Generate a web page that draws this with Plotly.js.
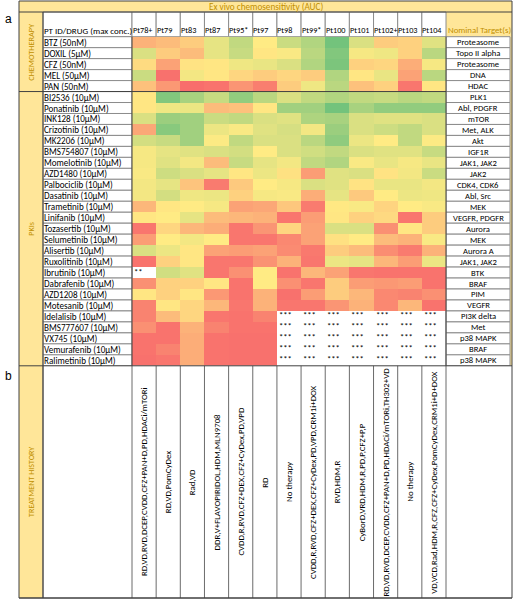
<!DOCTYPE html>
<html>
<head>
<meta charset="utf-8">
<script src="https://cdn.plot.ly/plotly-3.0.1.min.js"></script>
<style>html,body{margin:0;padding:0;background:#fff;}#chart{width:513px;height:600px;}</style>
</head>
<body>
<div id="chart"></div>
<script>
// ---------------- DATA ----------------
const patients = ["Pt78+","Pt79","Pt83","Pt87","Pt95*","Pt97","Pt98","Pt99*","Pt100","Pt101","Pt102+","Pt103","Pt104"];

const chemoDrugs = ["BTZ (50nM)","DOXIL (5µM)","CFZ (50nM)","MEL (50µM)","PAN (50nM)"];
const chemoTargets = ["Proteasome","Topo II alpha","Proteasome","DNA","HDAC"];

const pkiDrugs = ["BI2536 (10µM)","Ponatinib (10µM)","INK128 (10µM)","Crizotinib (10µM)","MK2206 (10µM)",
  "BMS754807 (10µM)","Momelotinib (10µM)","AZD1480 (10µM)","Palbociclib (10µM)","Dasatinib (10µM)",
  "Trametinib (10µM)","Linifanib (10µM)","Tozasertib (10µM)","Selumetinib (10µM)","Alisertib (10µM)",
  "Ruxolitinib (10µM)","Ibrutinib (10µM)","Dabrafenib (10µM)","AZD1208 (10µM)","Motesanib (10µM)",
  "Idelalisib (10µM)","BMS777607 (10µM)","VX745 (10µM)","Vemurafenib (10µM)","Ralimetinib (10µM)"];
const pkiTargets = ["PLK1","Abl, PDGFR","mTOR","Met, ALK","Akt","IGF1R","JAK1, JAK2","JAK2","CDK4, CDK6","Abl, Src",
  "MEK","VEGFR, PDGFR","Aurora","MEK","Aurora A","JAK1, JAK2","BTK","BRAF","PIM","VEGFR",
  "PI3K delta","Met","p38 MAPK","BRAF","p38 MAPK"];

// relative AUC colour level (0 = most sensitive/green, 50 = yellow, 100 = most resistant/red)
const chemoAUC = [
  [72,68,62,42,30,50,33,25,5,38,62,60,40],
  [38,62,68,42,32,52,48,28,10,47,45,60,28],
  [56,78,53,52,45,43,38,25,8,60,58,74,47],
  [33,97,46,52,58,62,58,62,25,52,43,78,28],
  [66,82,98,96,83,92,62,45,28,66,60,95,52]
];
const pkiAUC = [
  [52,10,22,32,15,28,38,30,25,30,32,28,30],
  [52,45,44,68,66,52,20,20,5,22,15,15,15],
  [38,18,20,33,30,38,40,24,22,38,40,40,38],
  [76,12,20,44,48,40,37,46,18,38,34,30,38],
  [36,32,20,49,30,38,38,28,14,44,50,30,49],
  [47,42,40,38,36,50,38,35,30,38,40,40,32],
  [47,40,46,68,32,42,46,30,25,48,43,47,43],
  [48,34,38,42,52,44,54,80,40,38,53,46,33],
  [46,42,65,93,63,50,47,38,40,53,43,43,46],
  [46,36,45,44,60,47,48,74,42,63,50,44,45],
  [70,52,50,47,78,76,64,93,51,48,59,50,48],
  [52,50,42,68,70,72,95,80,52,60,57,95,62],
  [95,58,70,74,95,83,58,78,38,38,85,52,62],
  [80,50,46,50,95,95,88,78,54,50,68,72,48],
  [38,44,52,78,80,78,87,94,62,68,86,93,72],
  [96,60,52,95,95,84,72,95,44,42,70,80,44],
  [null,35,40,95,85,50,96,70,78,95,96,96,96],
  [85,60,60,52,96,50,85,95,62,80,82,80,96],
  [52,60,52,82,96,72,97,80,62,70,88,90,85],
  [90,52,58,70,95,72,95,95,83,72,88,70,96],
  [90,68,58,95,96,90,null,null,null,null,null,null,null],
  [85,96,72,90,96,96,null,null,null,null,null,null,null],
  [96,96,74,96,97,97,null,null,null,null,null,null,null],
  [96,90,74,96,97,97,null,null,null,null,null,null,null],
  [97,95,74,96,97,97,null,null,null,null,null,null,null]
];

// notes shown in cells without a value: [drug, patient, text]
const cellNotes = [["Ibrutinib (10µM)","Pt78+","**"]];
const tripleStarDrugs = ["Idelalisib (10µM)","BMS777607 (10µM)","VX745 (10µM)","Vemurafenib (10µM)","Ralimetinib (10µM)"];
const tripleStarPatients = ["Pt98","Pt99*","Pt100","Pt101","Pt102+","Pt103","Pt104"];
tripleStarDrugs.forEach(d => tripleStarPatients.forEach(p => cellNotes.push([d,p,"***"])));

const treatmentHistory = [
  "RD,VD,RVD,DCEP,CVDD,CFZ+PAN+D,PD,HDACi/mTORi",
  "RD,VD,PomCyDex",
  "Rad,VD",
  "DDR,V+FLAVOPIRIDOL,HDM,MLN9708",
  "CVDD,R,RVD,CFZ+DEX,CFZ+CyDex,PD,VPD",
  "RD",
  "No therapy",
  "CVDD,R,RVD,CFZ+DEX,CFZ+CyDex,PD,VPD,CRM1i+DOX",
  "RVD,HDM,R",
  "CyBorD,VRD,HDM,R,PD,P,CFZ+P,P",
  "RD,VD,RVD,DCEP,CVDD,CFZ+PAN+D,PD,HDACi/mTORi,TH302+VD",
  "No therapy",
  "VD,VCD,Rad,HDM,R,CFZ,CFZ+CyDex,PomCyDex,CRM1i+D+DOX"
];

// ---------------- LAYOUT GEOMETRY ----------------
const W = 513, H = 600;
const L = 19, SEC = 43, LAB = 132, HMR = 446, TGR = 510, R = 512;
const TOP = 1, BAR = 12, HEAD = 36.7, RH = 10.97, HIST = 598;
const drugs = chemoDrugs.concat(pkiDrugs);
const targets = chemoTargets.concat(pkiTargets);
const z = chemoAUC.concat(pkiAUC);
const NR = drugs.length, NC = patients.length;
const HMB = HEAD + NR * RH;
const CW = (HMR - LAB) / NC;
const px = x => x / W, py = y => 1 - y / H;
const rowTop = i => HEAD + i * RH;

const FONT = "Carlito, Lato, 'Open Sans', sans-serif";
const GOLD = "#BF8F00", YEL = "#FFE699", GRID = "#8c8c8c", DARK = "#404040";

const shapes = [];
function rect(x0, y0, x1, y1, fill, line, lw) {
  shapes.push({type:"rect", xref:"paper", yref:"paper", x0:px(x0), x1:px(x1), y0:py(y1), y1:py(y0),
    fillcolor: fill || "rgba(0,0,0,0)", line:{color: line || "rgba(0,0,0,0)", width: lw === undefined ? 1 : lw}, layer:"below"});
}
function line(x0, y0, x1, y1, color, lw, layer) {
  shapes.push({type:"line", xref:"paper", yref:"paper", x0:px(x0), x1:px(x1), y0:py(y0), y1:py(y1),
    line:{color: color, width: lw}, layer: layer || "above"});
}

// yellow backgrounds
rect(L, TOP, R, BAR, YEL, null, 0);
rect(L, BAR, SEC, HIST, YEL, null, 0);
rect(HMR, BAR, R, HEAD, YEL, null, 0);
rect(TGR, HEAD, R, HMB, YEL, null, 0);
// header cells
rect(SEC, BAR, LAB, HEAD, "#ffffff", GRID, 1);
for (let j = 0; j < NC; j++) rect(LAB + j * CW, BAR, LAB + (j + 1) * CW, HEAD, "#ffffff", GRID, 1);
// row label & target cells
for (let i = 0; i < NR; i++) {
  rect(SEC, rowTop(i), LAB, rowTop(i + 1), "#ffffff", GRID, 1);
  rect(HMR, rowTop(i), TGR, rowTop(i + 1), "#ffffff", GRID, 1);
}
// treatment history region
rect(SEC, HMB, R, HIST, "#ffffff", null, 0);
const vx = [SEC, LAB];
for (let j = 1; j <= NC; j++) vx.push(LAB + j * CW);
vx.forEach(x => line(x, HMB, x, HIST, "#6b6b6b", 1));
// section separators
line(L, rowTop(chemoDrugs.length), HMR, rowTop(chemoDrugs.length), DARK, 1);
line(L, HMB, R, HMB, DARK, 1);
line(L, BAR, R, BAR, DARK, 1);
line(LAB, HEAD, LAB, HMB, DARK, 1);
line(HMR, HEAD, HMR, HMB, DARK, 1);
line(L, HIST, R, HIST, DARK, 1);
line(SEC, BAR, SEC, HIST, DARK, 1);
// outer frame
shapes.push({type:"rect", xref:"paper", yref:"paper", x0:px(L), x1:px(R), y0:py(HIST), y1:py(TOP),
  line:{color:DARK, width:1}, layer:"above"});

// ---------------- ANNOTATIONS ----------------
const ann = [];
function txt(o, size, color) {
  const base = {showarrow:false, xanchor:"center", yanchor:"middle", borderpad:0,
    font:{family:FONT, size:size || 8.6, color:color || "#000"}};
  ann.push(Object.assign(base, o));
}

txt({text:"a", xref:"paper", yref:"paper", x:px(8), y:py(19), font:{family:"Arial", size:12, color:"#000"}});
txt({text:"b", xref:"paper", yref:"paper", x:px(8), y:py(376), font:{family:"Arial", size:12, color:"#000"}});
txt({text:"Ex vivo chemosensitivity (AUC)", xref:"paper", yref:"paper", x:px((L + R) / 2), y:py(6.5)}, 9.2, GOLD);
txt({text:"PT ID/DRUG (max conc.)", xref:"paper", yref:"paper", x:px(SEC), xanchor:"left", y:py(30)}, 9);
txt({text:"Nominal Target(s)", xref:"paper", yref:"paper", x:px((HMR + R) / 2), y:py(30)}, 8.8, GOLD);
patients.forEach((p, j) => txt({text:p, xref:"x", x:j - 0.5, xanchor:"left", xshift:-0.5, yref:"paper", y:py(30)}, 8.2));

txt({text:"CHEMOTHERAPY", xref:"paper", yref:"paper", x:px((L + SEC) / 2), y:py((BAR + rowTop(chemoDrugs.length)) / 2), textangle:-90}, 8.3, GOLD);
txt({text:"PKIs", xref:"paper", yref:"paper", x:px((L + SEC) / 2), y:py((rowTop(chemoDrugs.length) + HMB) / 2), textangle:-90}, 8.2, GOLD);
txt({text:"TREATMENT HISTORY", xref:"paper", yref:"paper", x:px((L + SEC) / 2), y:py((HMB + HIST) / 2), textangle:-90}, 8.1, GOLD);

drugs.forEach((d, i) => txt({text:d, xref:"paper", x:px(SEC), xanchor:"left", yref:"y", y:i}, 9.1));
targets.forEach((t, i) => txt({text:t, xref:"paper", x:px((HMR + TGR) / 2), yref:"y", y:i}, 8.6));
cellNotes.forEach(n => txt({text:n[2], xref:"x", x:patients.indexOf(n[1]) - 0.5, xanchor:"left", xshift:1,
  yref:"y", y:drugs.indexOf(n[0]), yshift:1}, 8.6));
treatmentHistory.forEach((t, j) => txt({text:t, xref:"x", x:j, yref:"paper", y:py((HMB + HIST) / 2), textangle:-90}, 8.8));

// ---------------- TRACE ----------------
const trace = {
  type:"heatmap",
  z: z,
  x: patients.map((p, j) => j),
  y: drugs.map((d, i) => i),
  colorscale: [[0, "#63BE7B"], [0.5, "#FFEB84"], [1, "#F8696B"]],
  zmin: 0, zmax: 100,
  showscale: false,
  hoverongaps: false,
  xgap: 0, ygap: 0
};

const layout = {
  width: W, height: H,
  margin: {l:0, r:0, t:0, b:0},
  paper_bgcolor: "#ffffff", plot_bgcolor: "rgba(0,0,0,0)",
  showlegend: false,
  xaxis: {domain:[px(LAB), px(HMR)], range:[-0.5, NC - 0.5], visible:false, fixedrange:true},
  yaxis: {domain:[py(HMB), py(HEAD)], range:[NR - 0.5, -0.5], visible:false, fixedrange:true},
  shapes: shapes,
  annotations: ann,
  font: {family: FONT}
};

Plotly.newPlot("chart", [trace], layout, {displayModeBar:false, staticPlot:true});
</script>
</body>
</html>
